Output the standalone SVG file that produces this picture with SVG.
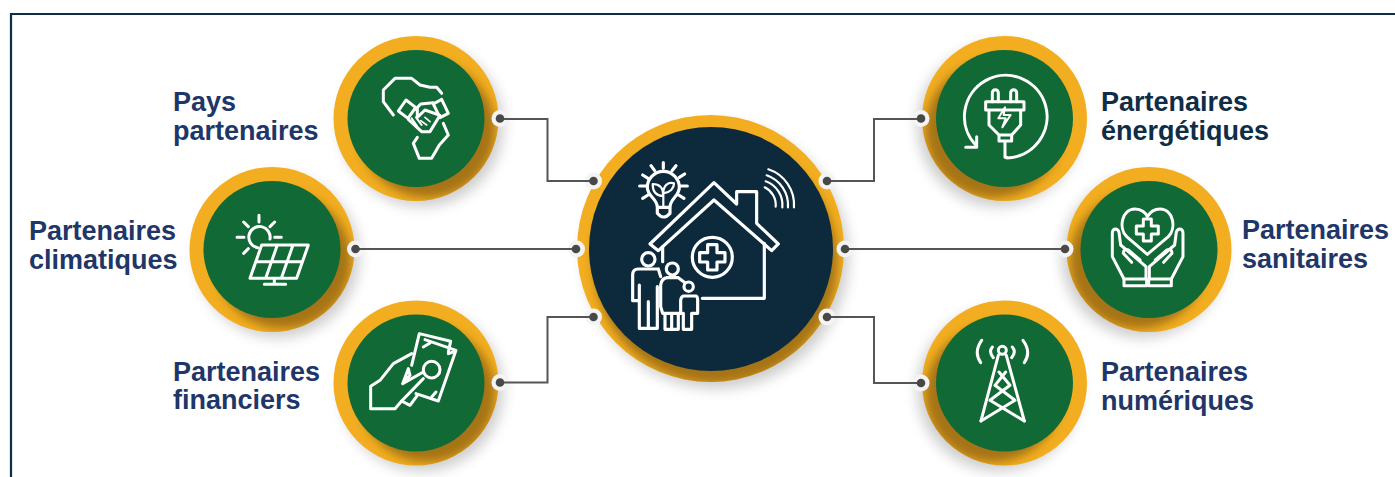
<svg xmlns="http://www.w3.org/2000/svg" xmlns:xlink="http://www.w3.org/1999/xlink" width="1395" height="477" viewBox="0 0 1395 477">
<style>
.gold{fill:#f2ae20}
.green{fill:#116935}
.navy{fill:#0d2a3d}
.ic{fill:none;stroke:#fff;stroke-width:9;stroke-linejoin:round;stroke-linecap:round}
.lb{font-family:"Liberation Sans",Arial,sans-serif;font-weight:700;font-size:27px;fill:#1f3668}
.lr{fill:#0f2d46}
.ln{fill:none;stroke:#555;stroke-width:2}
.halo{fill:#f4f4f4}
.dot{fill:#484848}
</style>
<defs>
<filter id="b1" x="-40%" y="-40%" width="180%" height="180%"><feGaussianBlur stdDeviation="7"/></filter>
<filter id="b2" x="-40%" y="-40%" width="180%" height="180%"><feGaussianBlur stdDeviation="5"/></filter>
<clipPath id="cs"><circle r="82.5"/></clipPath>
<clipPath id="cc"><circle r="133.5"/></clipPath>
<g id="baseL">
<circle cx="6" cy="7" r="81" fill="#000" opacity=".2" filter="url(#b1)"/>
<circle r="82.5" class="gold"/>
<g clip-path="url(#cs)"><circle cx="11" cy="11" r="68" fill="#5a3a10" opacity=".5" filter="url(#b2)"/></g>
<circle r="68.5" class="green"/>
</g>
<g id="baseR">
<circle cx="-6" cy="7" r="81" fill="#000" opacity=".2" filter="url(#b1)"/>
<circle r="82.5" class="gold"/>
<g clip-path="url(#cs)"><circle cx="-11" cy="11" r="68" fill="#5a3a10" opacity=".5" filter="url(#b2)"/></g>
<circle r="68.5" class="green"/>
</g>
</defs>
<rect width="1395" height="477" fill="#fff"/>
<path d="M11 477V14H1395" fill="none" stroke="#0d2f45" stroke-width="2.2"/>

<g id="node-pays">
<use href="#baseL" x="416" y="118.5"/>
<g class="ic" transform="translate(330 30) scale(.3333)">
<path d="M190 255 160 215V180L195 145H245L270 165 300 172H320L335 190"/>
<path d="M340 280 355 315 328 345 305 385H268L250 340 262 322"/>
<path d="M205 243 228 210 257 232 234 265Z"/>
<path d="M310 222 335 208 355 250 330 263Z"/>
<path d="M257 238 272 222 310 218M262 235V262L285 240 330 256 300 305H275L235 268"/>
<path d="M245 265 262 290M258 262 275 285" stroke-width="6"/>
<path d="M285 262 300 275M272 272 290 285" stroke-width="5"/>
</g>
<text class="lb" x="173" y="110.5">Pays</text>
<text class="lb" x="173" y="139.5">partenaires</text>
</g>

<g id="node-climat">
<use href="#baseL" x="272" y="249.5"/>
<g class="ic" transform="translate(185 165) scale(.3333)">
<path d="M218 248A32 32 0 1 1 255 222"/>
<path d="M222 151V171M176 171 190 185M269 171 255 185M156 217H177M269 217H289M176 265 190 251"/>
<path d="M230 240H370L335 340H195ZM213 290H352M277 240 242 340M324 240 289 340M268 340V358M238 358H302"/>
</g>
<text class="lb" x="29" y="239.5">Partenaires</text>
<text class="lb" x="29" y="268.5">climatiques</text>
</g>

<g id="node-financiers">
<use href="#baseL" x="416" y="383"/>
<g class="ic" transform="translate(330 297) scale(.3333)">
<path d="M245 170 190 200 150 250 122 268V335H195L215 312 280 245"/>
<path d="M245 205 268 110 362 133 355 165"/>
<path d="M285 128 378 160 325 312 258 290"/>
<path d="M280 150 300 138M355 170 370 165M305 300 318 285"/>
<circle cx="305" cy="218" r="25"/>
<path d="M218 260 235 215 240 235ZM218 260 280 225"/>
<path d="M215 312 240 325 262 295"/>
</g>
<text class="lb" x="173" y="380.7">Partenaires</text>
<text class="lb" x="173" y="409.3">financiers</text>
</g>

<g id="node-energie">
<use href="#baseR" x="1004.5" y="118.5"/>
<g class="ic" transform="translate(915 30) scale(.3333)">
<path d="M275 384A124 124 0 1 0 182 345"/>
<path d="M152 352H185V320"/>
<path d="M232 215V188A9 9 0 0 1 250 188V215M287 215V188A9 9 0 0 1 305 188V215"/>
<path d="M212 215H327V240H212ZM222 240V285L252 315H290L317 285V240"/>
<path d="M252 315V333H290V315M270 333V382H275"/>
<path d="M270 232 250 265H272L262 292 287 255H266Z" stroke-width="6"/>
</g>
<text class="lb lr" x="1101" y="110.5">Partenaires</text>
<text class="lb lr" x="1101" y="139.5">énergétiques</text>
</g>

<g id="node-sanitaires">
<use href="#baseR" x="1149" y="249.5"/>
<g class="ic" transform="translate(1060 165) scale(.3333)">
<path d="M262 268 200 215C175 190 185 132 225 132 245 132 258 145 262 155 268 145 280 132 300 132 340 132 350 190 325 215Z"/>
<path d="M250 162H274V183H295V207H274V228H250V207H229V183H250Z"/>
<path d="M192 342 157 275V205Q157 192 168 192 178 195 178 210L182 240 258 305V342"/>
<path d="M215 292 190 265Q190 250 205 255L240 285"/>
<path d="M192 342H260V362H192Z"/>
<g transform="translate(526) scale(-1 1)">
<path d="M192 342 157 275V205Q157 192 168 192 178 195 178 210L182 240 258 305V342"/>
<path d="M215 292 190 265Q190 250 205 255L240 285"/>
<path d="M192 342H260V362H192Z"/>
</g>
</g>
<text class="lb" x="1242" y="239">Partenaires</text>
<text class="lb" x="1242" y="268">sanitaires</text>
</g>

<g id="node-numeriques">
<use href="#baseR" x="1004.5" y="383"/>
<g class="ic" transform="translate(915 297) scale(.3333)">
<circle cx="262" cy="160" r="12"/>
<path d="M250 175 198 372M274 175 328 372"/>
<path d="M198 372 300 310 240 265 272 225M328 372 225 310 285 265 252 225"/>
<path d="M200 130Q175 165 197 197M232 150Q220 165 235 182M324 130Q350 165 328 197M292 150Q305 165 290 182"/>
</g>
<text class="lb" x="1101" y="380.5">Partenaires</text>
<text class="lb" x="1101" y="409.5">numériques</text>
</g>

<g id="node-centre">
<g transform="translate(710.5 248.5)">
<circle cx="6" cy="8" r="132" fill="#000" opacity=".2" filter="url(#b1)"/>
<circle r="133.5" class="gold"/>
<g clip-path="url(#cc)"><circle cx="5" cy="13" r="122" fill="#5a3a10" opacity=".5" filter="url(#b2)"/></g>
<circle cx=".5" cy=".5" r="122" class="navy"/>
</g>
<g class="ic" transform="translate(570 100) scale(.3333)" style="stroke-width:9.5">
<path d="M240 432 432 248 500 312V275H560V370L625 432 605 452 432 300 265 452Z"/>
<path d="M583 430V595H397M278 440V485"/>
<circle cx="427" cy="472" r="60"/>
<path d="M413 434H441V458H465V486H441V510H413V486H389V458H413Z"/>
<path d="M595 208A112 112 0 0 1 672 322M590 226A95 95 0 0 1 654 322M587 244A75 75 0 0 1 637 322M584 262A58 58 0 0 1 617 320" stroke-width="6.5"/>
<path d="M262 322C262 295 232 290 232 262A48 48 0 0 1 328 262C328 290 300 295 300 322ZM262 322V340Q280 362 300 340V322"/>
<path d="M280 188V205M243 197 254 212M318 197 306 212M218 225 234 235M344 222 328 232M209 258H228M352 258H332M218 295 234 285M342 295 326 285"/>
<path d="M280 322V270M280 288C250 288 248 265 248 252 270 252 280 265 280 288ZM280 280C280 255 295 245 312 250 312 265 300 278 280 280Z" stroke-width="6.5"/>
<circle cx="235" cy="478" r="20"/>
<path d="M265 507H205Q188 507 188 525V602H208M208 555V685H235V605M235 685H262V560M272 530 265 507"/>
<circle cx="307" cy="507" r="18"/>
<path d="M292 533Q275 535 272 555V620L278 640H330M285 640V688H305V640M305 688H325V640M290 533H325L345 548"/>
<circle cx="356" cy="560" r="14"/>
<path d="M340 588H378Q383 590 383 600V640H365V688H340V640H332V600Q334 590 340 588Z"/>
</g>
</g>

<g id="connectors">
<g class="halo">
<circle cx="500" cy="118.5" r="8.5"/><circle cx="593.5" cy="181" r="8.5"/>
<circle cx="355.5" cy="249" r="8.5"/><circle cx="576.5" cy="249" r="8.5"/>
<circle cx="500" cy="382.5" r="8.5"/><circle cx="593.5" cy="317" r="8.5"/>
<circle cx="827" cy="181" r="8.5"/><circle cx="921" cy="118.5" r="8.5"/>
<circle cx="845" cy="249" r="8.5"/><circle cx="1065" cy="249" r="8.5"/>
<circle cx="827" cy="317" r="8.5"/><circle cx="921" cy="383" r="8.5"/>
</g>
<path class="ln" d="M500 119H547.5V181H594M356 249H576M500 382.5H547.5V317H594M827 181H874V119H921M845 249H1065M827 317H874V383H921"/>
<g class="dot">
<circle cx="500" cy="118.5" r="4.3"/><circle cx="593.5" cy="181" r="4.3"/>
<circle cx="355.5" cy="249" r="4.3"/><circle cx="576" cy="249" r="4.3"/>
<circle cx="500" cy="382.5" r="4.3"/><circle cx="593.5" cy="317" r="4.3"/>
<circle cx="827" cy="181" r="4.3"/><circle cx="921" cy="118.5" r="4.3"/>
<circle cx="845" cy="249" r="4.3"/><circle cx="1065" cy="249" r="4.3"/>
<circle cx="827" cy="317" r="4.3"/><circle cx="921" cy="383" r="4.3"/>
</g>
</g>
</svg>
